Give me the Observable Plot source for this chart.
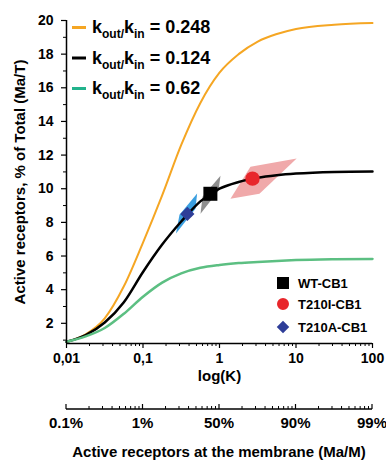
<!DOCTYPE html>
<html><head><meta charset="utf-8">
<script src="https://cdn.jsdelivr.net/npm/d3@7"></script>
<script src="https://cdn.jsdelivr.net/npm/@observablehq/plot@0.6"></script>
<style>body{margin:0;background:#fff}#chart svg{display:block}</style>
</head><body><div id="chart"></div>
<script>
// K grid (log steps of 0.25)
const kGrid = [0.01, 0.0178, 0.0316, 0.0562, 0.1, 0.178, 0.316, 0.562, 1, 1.78, 3.16, 5.62, 10, 31.6, 100];
const orangeV = [0.90, 1.35, 2.3, 4.2, 6.8, 9.6, 12.6, 15.1, 16.9, 18.0, 18.75, 19.2, 19.5, 19.75, 19.85];
const blackV  = [0.90, 1.30, 2.05, 3.25, 5.05, 6.68, 8.05, 9.25, 10.0, 10.4, 10.65, 10.8, 10.9, 11.0, 11.03];
const greenV  = [0.90, 1.22, 1.72, 2.57, 3.58, 4.42, 4.97, 5.3, 5.47, 5.58, 5.65, 5.71, 5.76, 5.81, 5.83];
const ratioLabels = ["0.248", "0.124", "0.62"];
const curveColors = ["#f5a623", "#000000", "#5cbf82"];
const legendDashColors = ["#f5a623", "#000000", "#22b38c"];

// measured receptors
const mutants = ["WT-CB1", "T210I-CB1", "T210A-CB1"];
const mutantK = [0.76, 2.7, 0.38];
const mutantV = [9.70, 10.6, 8.5];
const mutantSymbols = ["square", "circle", "diamond2"];
const mutantColors = ["#000000", "#e8262b", "#2e3d98"];
const mutantR = [7.9, 7.2, 6.4];
// uncertainty regions (quadrilaterals)
const regionK = [[1.03, 0.97, 0.565, 0.60], [10.2, 2.54, 1.39, 3.33], [0.51, 0.485, 0.27, 0.30]];
const regionV = [[10.77, 9.88, 8.51, 9.52], [11.79, 11.31, 9.40, 9.70], [9.72, 8.81, 7.34, 8.45]];
const regionColors = ["#8f8f8f", "#f0a9aa", "#3b9fe0"];

const xTicks = [0.01, 0.1, 1, 10, 100];
const xTickLabels = ["0,01", "0,1", "1", "10", "100"];
const yTicks = [2, 4, 6, 8, 10, 12, 14, 16, 18, 20];
const yMinorTicks = [1, 3, 5, 7, 9, 11, 13, 15, 17, 19];
const memTickLabels = ["0.1%", "1%", "50%", "90%", "99%"];
const xMinorTicks = [];
for (const d of [0.01, 0.1, 1, 10]) for (let m = 2; m <= 9; m++) xMinorTicks.push(d * m);

const curves = [];
[orangeV, blackV, greenV].forEach((vals, i) => kGrid.forEach((k, j) => curves.push({k, v: vals[j], s: i})));
const regions = [];
regionK.forEach((ks, i) => ks.forEach((k, j) => regions.push({k, v: regionV[i][j], s: i})));

const font = "'Liberation Sans', Arial, Helvetica, sans-serif";
const chart = Plot.plot({
  width: 386, height: 462,
  marginLeft: 66, marginRight: 14, marginTop: 20, marginBottom: 119,
  x: {type: "log", domain: [0.01, 100]},
  y: {domain: [0.8, 20]},
  style: {fontFamily: font, fontSize: "14px", fontWeight: "bold", color: "black", background: "white"},
  marks: [
    Plot.line(regions, {x: "k", y: "v", z: "s", fill: d => regionColors[d.s], stroke: "none", curve: "linear-closed"}),
    Plot.line(curves, {x: "k", y: "v", z: "s", stroke: d => curveColors[d.s], strokeWidth: d => d.s === 0 ? 2 : 2.5, curve: "monotone-x"}),
    ...mutants.map((m, i) => Plot.dot([i], {x: j => mutantK[j], y: j => mutantV[j], symbol: mutantSymbols[i], fill: mutantColors[i], r: mutantR[i], stroke: "none"})),
    Plot.ruleX([0.01], {strokeWidth: 1.5}),
    Plot.ruleY([0.8], {strokeWidth: 1.5}),
    Plot.axisX({ticks: xTicks, tickFormat: (d) => xTickLabels[xTicks.indexOf(d)], tickSize: 5, tickPadding: 5, fontSize: 14, label: null, strokeWidth: 1.2}),
    Plot.axisX({ticks: xMinorTicks, tickFormat: () => "", tickSize: 3, label: null}),
    Plot.axisY({ticks: yTicks, tickSize: 5, tickPadding: 8, fontSize: 14, label: null, strokeWidth: 1.2}),
    Plot.axisY({ticks: yMinorTicks, tickFormat: () => "", tickSize: 3, label: null}),
    Plot.text(["log(K)"], {frameAnchor: "bottom", dy: 37, fontSize: 15}),
    Plot.text(["Active receptors, % of Total (Ma/T)"], {frameAnchor: "left", rotate: -90, dx: -46, fontSize: 15, textAnchor: "middle", lineAnchor: "middle"})
  ]
});
document.getElementById("chart").appendChild(chart);

const xs = chart.scale("x");
const svg = d3.select(chart);

// second axis
const g2 = svg.append("g").attr("font-family", font).attr("font-weight", "bold").attr("text-anchor", "middle");
const axisY2 = 409;
g2.append("line").attr("x1", xs.apply(0.01)).attr("x2", xs.apply(100)).attr("y1", axisY2).attr("y2", axisY2).attr("stroke", "black").attr("stroke-width", 1.5);
xTicks.forEach((t, i) => {
  const x = xs.apply(t);
  g2.append("line").attr("x1", x).attr("x2", x).attr("y1", axisY2 - 5).attr("y2", axisY2).attr("stroke", "black").attr("stroke-width", 1.2);
  g2.append("text").attr("x", x).attr("y", 428).attr("font-size", 15).text(memTickLabels[i]);
});
xMinorTicks.forEach(t => {
  const x = xs.apply(t);
  g2.append("line").attr("x1", x).attr("x2", x).attr("y1", axisY2 - 3).attr("y2", axisY2).attr("stroke", "black");
});
g2.append("text").attr("x", (xs.apply(0.01) + xs.apply(100)) / 2).attr("y", 457).attr("font-size", 15).text("Active receptors at the membrane (Ma/M)");

// top-left legend
const lg = svg.append("g").attr("font-family", font).attr("font-weight", "bold").attr("text-anchor", "start");
const baselines = [33, 63.5, 94];
ratioLabels.forEach((lab, i) => {
  const b = baselines[i];
  lg.append("line").attr("x1", 72).attr("x2", 86).attr("y1", b - 5.5).attr("y2", b - 5.5).attr("stroke", legendDashColors[i]).attr("stroke-width", 3);
  const t = lg.append("text").attr("x", 92).attr("y", b).attr("font-size", 18).attr("text-anchor", "start");
  t.append("tspan").text("k");
  t.append("tspan").attr("font-size", 12).attr("dy", 5).text("out/");
  t.append("tspan").attr("dy", -5).text("k");
  t.append("tspan").attr("font-size", 12).attr("dy", 5).text("in");
  t.append("tspan").attr("dy", -5).text("\u00a0= " + lab);
});

// bottom-right legend
const lg2 = svg.append("g").attr("font-family", font).attr("font-weight", "bold").attr("text-anchor", "start");
const rowY = [283, 304, 327];
const sym = {square: d3.symbolSquare, circle: d3.symbolCircle, diamond2: d3.symbolDiamond2};
const symSize = [144, 113, 100];
mutants.forEach((m, i) => {
  lg2.append("path").attr("transform", `translate(283,${rowY[i]})`).attr("d", d3.symbol(sym[mutantSymbols[i]], symSize[i])()).attr("fill", mutantColors[i]);
  lg2.append("text").attr("x", 298).attr("y", rowY[i]).attr("dy", "0.35em").attr("font-size", 13).attr("text-anchor", "start").text(m);
});
</script>
</body></html>
